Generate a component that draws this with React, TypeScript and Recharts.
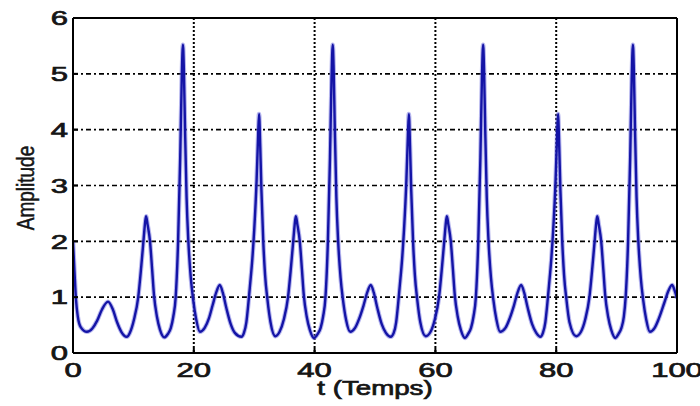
import React from "react";
import { LineChart, Line, XAxis, YAxis, CartesianGrid } from "recharts";

const tValues: number[] = [
  0, 0.25, 0.5, 0.8, 1.3, 2.3, 3.2, 4.0, 4.8, 5.8, 6.6, 7.3, 8.0, 8.9,
  9.4, 10.1, 10.8, 11.3, 11.7, 11.95, 12.1, 12.35, 12.75, 13.1, 13.4, 13.9, 14.4, 15.1,
  15.7, 16.2, 16.6, 17.0, 17.4, 17.75, 18.0, 18.2, 18.35, 18.55, 18.8, 19.1, 19.5, 19.9, 20.4, 21.0,
  21.8, 22.5, 23.1, 23.7, 24.3, 24.8, 25.4, 26.1, 26.8, 27.9,
  28.3, 28.7, 29.0, 29.3, 29.7, 30.0, 30.4, 30.65, 30.8, 31.0, 31.2, 31.5, 31.8, 32.2, 32.7, 33.5,
  34.2, 34.9, 35.6, 36.1, 36.5, 36.75, 36.9, 37.15, 37.55, 37.9, 38.2, 38.7, 39.2, 39.9,
  40.5, 41.0, 41.4, 41.8, 42.2, 42.55, 42.8, 43.0, 43.15, 43.35, 43.6, 43.9, 44.3, 44.7, 45.2, 45.9,
  46.7, 47.4, 48.1, 48.7, 49.3, 49.8, 50.4, 51.1, 51.8, 52.6,
  53.1, 53.5, 53.8, 54.1, 54.5, 54.8, 55.2, 55.45, 55.6, 55.8, 56.0, 56.3, 56.6, 57.0, 57.5, 58.4,
  59.2, 59.9, 60.6, 61.1, 61.5, 61.75, 61.9, 62.15, 62.55, 62.9, 63.2, 63.7, 64.2, 64.9,
  65.4, 65.9, 66.3, 66.7, 67.1, 67.45, 67.7, 67.9, 68.05, 68.25, 68.5, 68.8, 69.2, 69.6, 70.1, 70.7,
  71.6, 72.3, 73.0, 73.6, 74.2, 74.7, 75.3, 76.0, 76.7, 77.4,
  77.8, 78.2, 78.5, 78.8, 79.2, 79.5, 79.9, 80.15, 80.3, 80.5, 80.7, 81.0, 81.3, 81.7, 82.2, 83.3,
  84.1, 84.8, 85.5, 86.0, 86.4, 86.65, 86.8, 87.05, 87.45, 87.8, 88.1, 88.6, 89.1, 89.8,
  90.3, 90.8, 91.2, 91.5, 91.9, 92.25, 92.5, 92.7, 92.85, 93.05, 93.3, 93.6, 94.0, 94.4, 94.9, 95.5,
  96.3, 97.0, 97.9, 98.6, 99.2, 99.6, 100,
];

const amplitude: number[] = [
  2.0, 1.45, 0.95, 0.65, 0.46, 0.38, 0.44, 0.58, 0.78, 0.92, 0.78, 0.55, 0.38, 0.29,
  0.36, 0.6, 1.0, 1.55, 2.05, 2.35, 2.45, 2.3, 2.0, 1.5, 1.05, 0.65, 0.42, 0.28,
  0.34, 0.45, 0.65, 1.0, 2.0, 3.5, 4.9, 5.52, 5.1, 4.0, 2.8, 2.0, 1.35, 0.95, 0.6, 0.38,
  0.45, 0.62, 0.85, 1.08, 1.22, 1.08, 0.8, 0.52, 0.36, 0.29,
  0.36, 0.55, 0.85, 1.2, 1.7, 2.2, 3.1, 3.9, 4.28, 3.7, 2.9, 2.0, 1.4, 0.95, 0.55, 0.3,
  0.38, 0.6, 1.0, 1.55, 2.05, 2.35, 2.45, 2.3, 2.0, 1.5, 1.05, 0.65, 0.42, 0.27,
  0.34, 0.45, 0.65, 1.0, 2.0, 3.5, 4.9, 5.52, 5.1, 4.0, 2.8, 2.0, 1.35, 0.95, 0.6, 0.38,
  0.45, 0.62, 0.85, 1.08, 1.22, 1.08, 0.8, 0.52, 0.36, 0.29,
  0.36, 0.55, 0.85, 1.2, 1.7, 2.2, 3.1, 3.9, 4.28, 3.7, 2.9, 2.0, 1.4, 0.95, 0.55, 0.3,
  0.38, 0.6, 1.0, 1.55, 2.05, 2.35, 2.45, 2.3, 2.0, 1.5, 1.05, 0.65, 0.42, 0.27,
  0.34, 0.45, 0.65, 1.0, 2.0, 3.5, 4.9, 5.52, 5.1, 4.0, 2.8, 2.0, 1.35, 0.95, 0.6, 0.38,
  0.45, 0.62, 0.85, 1.08, 1.22, 1.08, 0.8, 0.52, 0.36, 0.29,
  0.36, 0.55, 0.85, 1.2, 1.7, 2.2, 3.1, 3.9, 4.28, 3.7, 2.9, 2.0, 1.4, 0.95, 0.55, 0.3,
  0.38, 0.6, 1.0, 1.55, 2.05, 2.35, 2.45, 2.3, 2.0, 1.5, 1.05, 0.65, 0.42, 0.27,
  0.34, 0.45, 0.65, 1.0, 2.0, 3.5, 4.9, 5.52, 5.1, 4.0, 2.8, 2.0, 1.35, 0.95, 0.6, 0.38,
  0.45, 0.62, 0.9, 1.12, 1.22, 1.12, 0.98,
];

const xTicks = [0, 20, 40, 60, 80, 100];
const yTicks = [0, 1, 2, 3, 4, 5, 6];
const xLabel = "t (Temps)";
const yLabel = "Amplitude";

const data = tValues.map((t, i) => ({ t, a: amplitude[i] }));

const FONT = "'Liberation Sans', Arial, Helvetica, sans-serif";
const INK = "#151515";

const XTick = (props: any) => {
  const { x, y, payload } = props;
  return (
    <g transform={`translate(${x},${y}) scale(1.55,1)`}>
      <text x={0} y={0} dy="0.71em" textAnchor="middle" fontFamily={FONT} fontSize={20} fill={INK} stroke={INK} strokeWidth={0.7}>
        {payload.value}
      </text>
    </g>
  );
};

const YTick = (props: any) => {
  const { x, y, payload } = props;
  return (
    <g transform={`translate(${x},${y}) scale(1.55,1)`}>
      <text x={0} y={0} dy="0.36em" textAnchor="end" fontFamily={FONT} fontSize={20} fill={INK} stroke={INK} strokeWidth={0.7}>
        {payload.value}
      </text>
    </g>
  );
};

const XLabel = (props: any) => {
  const vb = props.viewBox || { x: 73, y: 353, width: 604, height: 53 };
  const cx = vb.x + vb.width / 2;
  return (
    <g transform={`translate(${cx},395) scale(1.42,1)`}>
      <text x={0} y={0} textAnchor="middle" fontFamily={FONT} fontSize={19.5} fill={INK} stroke={INK} strokeWidth={0.7}>
        {xLabel}
      </text>
    </g>
  );
};

const YLabel = () => {
  return (
    <g transform={`translate(25,188) scale(1.25,1) rotate(-90)`}>
      <text x={0} y={0} dy="0.36em" textAnchor="middle" fontFamily={FONT} fontSize={19} fill={INK} stroke={INK} strokeWidth={0.4}>
        {yLabel}
      </text>
    </g>
  );
};

export default function App() {
  return (
    <div style={{ position: "absolute", left: 0, top: 0, width: 700, height: 406, background: "#fff" }}>
      <LineChart width={700} height={406} data={data} margin={{ top: 0, right: 0, bottom: 0, left: 0 }}>
        <CartesianGrid horizontal={true} vertical={false} stroke="#000" strokeWidth={1.6} strokeDasharray="5 3 2 3" />
        <CartesianGrid horizontal={false} vertical={true} stroke="#000" strokeWidth={2} strokeDasharray="2 2" />
        <XAxis
          dataKey="t"
          type="number"
          domain={[0, 100]}
          ticks={xTicks}
          allowDataOverflow
          height={53}
          tickSize={-5}
          tickMargin={15}
          tickLine={{ stroke: "#000", strokeWidth: 2 }}
          axisLine={{ stroke: "#000", strokeWidth: 2 }}
          tick={<XTick />}
          label={<XLabel />}
        />
        <XAxis
          xAxisId="top"
          orientation="top"
          dataKey="t"
          type="number"
          domain={[0, 100]}
          ticks={xTicks}
          allowDataOverflow
          height={18}
          tick={false}
          tickLine={false}
          axisLine={{ stroke: "#000", strokeWidth: 2 }}
        />
        <YAxis
          type="number"
          domain={[0, 6]}
          ticks={yTicks}
          allowDataOverflow
          width={73}
          tickSize={-5}
          tickMargin={10}
          tickLine={{ stroke: "#000", strokeWidth: 2 }}
          axisLine={{ stroke: "#000", strokeWidth: 2 }}
          tick={<YTick />}
          label={<YLabel />}
        />
        <YAxis
          yAxisId="right"
          orientation="right"
          type="number"
          domain={[0, 6]}
          ticks={yTicks}
          allowDataOverflow
          width={23}
          tick={false}
          tickLine={false}
          axisLine={{ stroke: "#000", strokeWidth: 2 }}
        />
        <Line type="monotone" dataKey="a" stroke="#7a7ae0" strokeOpacity={0.55} strokeWidth={4.5} dot={false} activeDot={false} isAnimationActive={false} />
        <Line type="monotone" dataKey="a" stroke="#1414a6" strokeWidth={2.4} dot={false} activeDot={false} isAnimationActive={false} />
      </LineChart>
    </div>
  );
}
